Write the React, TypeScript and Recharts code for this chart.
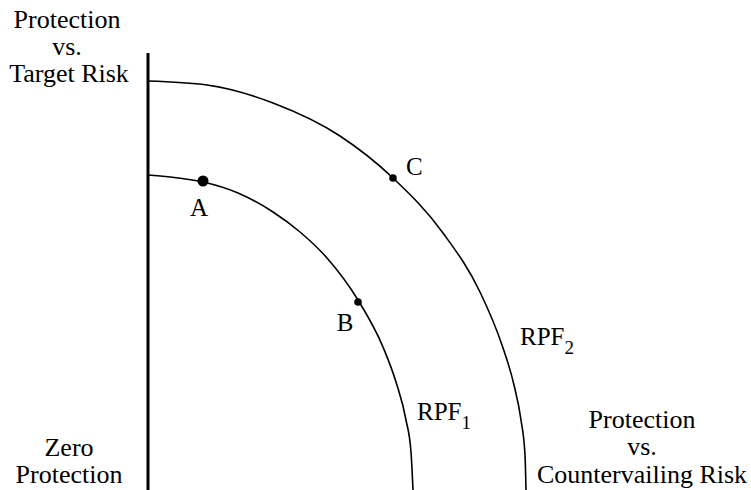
import { ComposedChart, Line, Scatter, XAxis, YAxis, ReferenceLine } from 'recharts'

// frontier curves (x = protection vs countervailing risk, y = protection vs target risk)
const rpf1X = [0, 30, 55, 90, 125, 152, 179, 210, 235, 248, 258, 263, 265]
const rpf1Y = [315, 312, 308, 297, 278, 258, 232, 190, 143, 108, 70, 38, 0]
const rpf2X = [0, 59, 125, 192, 245, 295, 332, 354, 366, 373, 377, 378]
const rpf2Y = [409, 405, 387, 354, 312, 257, 198, 145, 105, 70, 35, 0]

const pointNames = ['A', 'B', 'C']
const pointX = [55, 210, 245]
const pointY = [309, 188, 312]

const axisTop = 437

const rpf1 = rpf1X.map((x, i) => ({ x, y: rpf1Y[i] }))
const rpf2 = rpf2X.map((x, i) => ({ x, y: rpf2Y[i] }))
const points = pointNames.map((name, i) => ({ name, x: pointX[i], y: pointY[i] }))

const FONT = '"Liberation Serif", "Times New Roman", serif'
const W = 751, H = 490

// label placement relative to each dot
const labelOffset: Record<string, { dx: number; dy: number; anchor: 'start' | 'middle'; r: number }> = {
  A: { dx: -4, dy: 35, anchor: 'middle', r: 5.5 },
  B: { dx: -13, dy: 29, anchor: 'middle', r: 3.8 },
  C: { dx: 13, dy: -3, anchor: 'start', r: 3.8 },
}

function PointShape(props: any) {
  const { cx, cy, payload } = props
  const o = labelOffset[payload.name]
  return (
    <g>
      <circle cx={cx} cy={cy} r={o.r} fill="#000" />
      <text x={cx + o.dx} y={cy + o.dy} textAnchor={o.anchor} fontFamily={FONT} fontSize={25} fill="#000">{payload.name}</text>
    </g>
  )
}

export default function App() {
  const txt = { fontFamily: FONT, fontSize: 26, fill: '#000', textAnchor: 'middle' as const }
  return (
    <div style={{ position: 'absolute', left: 0, top: 0, width: W, height: H, background: '#fff' }}>
      <ComposedChart width={W} height={H} margin={{ top: 0, right: 0, bottom: 0, left: 148 }}>
        <XAxis type="number" dataKey="x" domain={[0, 603]} hide allowDataOverflow />
        <YAxis type="number" dataKey="y" domain={[0, 490]} hide allowDataOverflow />
        <ReferenceLine segment={[{ x: 0, y: 0 }, { x: 0, y: axisTop }]} stroke="#000" strokeWidth={3} />
        <Line data={rpf1} dataKey="y" type="monotone" stroke="#000" strokeWidth={1.6} dot={false} isAnimationActive={false} />
        <Line data={rpf2} dataKey="y" type="monotone" stroke="#000" strokeWidth={1.6} dot={false} isAnimationActive={false} />
        <Scatter data={points} dataKey="y" shape={PointShape} isAnimationActive={false} />
      </ComposedChart>
      <svg width={W} height={H} style={{ position: 'absolute', left: 0, top: 0, pointerEvents: 'none' }}>
        <text x={67} y={28} {...txt}>Protection</text>
        <text x={67} y={55} {...txt}>vs.</text>
        <text x={69} y={82} {...txt}>Target Risk</text>
        <text x={69} y={456} {...txt}>Zero</text>
        <text x={69} y={483} {...txt}>Protection</text>
        <text x={642} y={428} {...txt}>Protection</text>
        <text x={642} y={455} {...txt}>vs.</text>
        <text x={642} y={483} {...txt}>Countervailing Risk</text>
        <text x={417} y={420} fontFamily={FONT} fontSize={25} fill="#000">RPF<tspan fontSize={19} dy={9}>1</tspan></text>
        <text x={520} y={345} fontFamily={FONT} fontSize={25} fill="#000">RPF<tspan fontSize={19} dy={9}>2</tspan></text>
      </svg>
    </div>
  )
}
